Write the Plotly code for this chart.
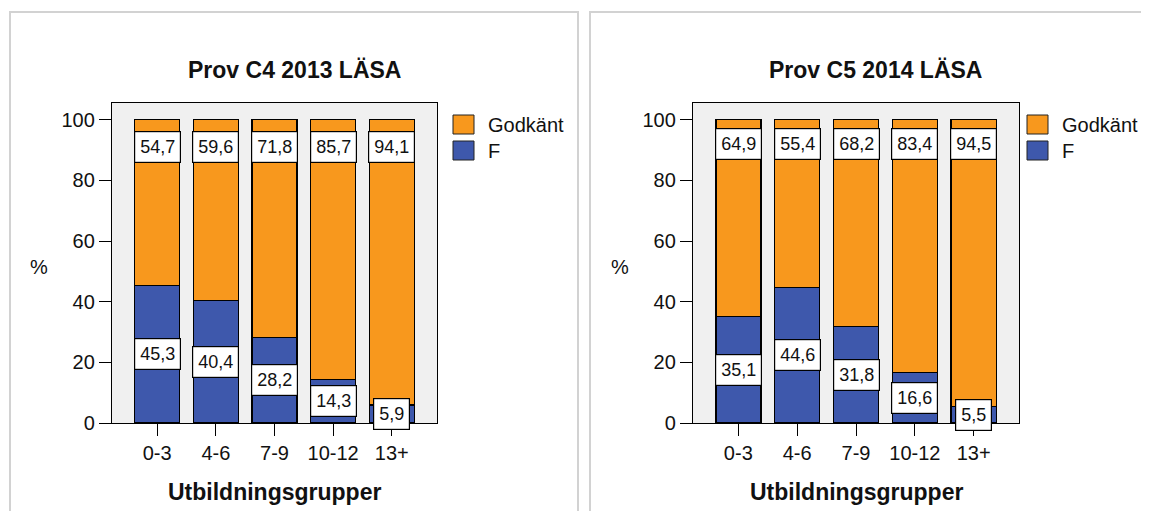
import plotly.graph_objects as go

VIEW_W, VIEW_H = 1149, 519
OX, OY = 8, 8  # default page body margin
W, H = VIEW_W - OX, VIEW_H - 2 * OY  # keep the page from overflowing the window

categories = ["0-3", "4-6", "7-9", "10-12", "13+"]
series_names = ["F", "Godkänt"]

c4_titel = "Prov C4 2013 LÄSA"
c4_f = [45.3, 40.4, 28.2, 14.3, 5.9]
c4_godkant = [54.7, 59.6, 71.8, 85.7, 94.1]

c5_titel = "Prov C5 2014 LÄSA"
c5_f = [35.1, 44.6, 31.8, 16.6, 5.5]
c5_godkant = [64.9, 55.4, 68.2, 83.4, 94.5]

y_ticks = [0, 20, 40, 60, 80, 100]
x_title = "Utbildningsgrupper"
y_title = "%"

ORANGE = "#F8981D"
BLUE = "#3E58AC"
FONT = "Liberation Sans, Arial, sans-serif"


def px(x):
    return (x - OX) / W


def py(y):
    return 1 - (y - OY) / H


def fmt(v):
    return f"{v:.1f}".replace(".", ",")


fig = go.Figure()

panels = [
    dict(title=c4_titel, f=c4_f, g=c4_godkant, ax="", plot=(112, 437),
         panel=(10, 578), legend_x=453, top_label=91),
    dict(title=c5_titel, f=c5_f, g=c5_godkant, ax="2", plot=(693, 1019),
         panel=(590, 1175), legend_x=1027, top_label=92),
]

plot_top, plot_bottom = 103, 423
shapes = []
annotations = []

for p in panels:
    xa = "x" + p["ax"]
    ya = "y" + p["ax"]
    fig.add_trace(go.Bar(x=categories, y=p["f"], name=series_names[0],
                         marker=dict(color=BLUE, line=dict(color="black", width=1.4)),
                         width=0.765, xaxis=xa, yaxis=ya, showlegend=False,
                         hoverinfo="x+y"))
    fig.add_trace(go.Bar(x=categories, y=p["g"], name=series_names[1],
                         marker=dict(color=ORANGE, line=dict(color="black", width=1.4)),
                         width=0.765, xaxis=xa, yaxis=ya, showlegend=False,
                         hoverinfo="x+y"))

    axis_common = dict(showline=True, linecolor="black", linewidth=1.3, mirror=True,
                       ticks="outside", ticklen=12, tickcolor="black", tickwidth=1.3,
                       showgrid=False, zeroline=False, automargin=False,
                       tickfont=dict(family=FONT, size=20, color="#111"))
    x0, x1 = p["plot"]
    fig.layout["xaxis" + p["ax"]] = dict(axis_common, domain=[px(x0), px(x1)],
                                         type="category", range=[-0.77, 4.77],
                                         anchor=ya)
    fig.layout["yaxis" + p["ax"]] = dict(axis_common, domain=[py(plot_bottom), py(plot_top)],
                                         range=[0, 105.5], tickvals=y_ticks,
                                         anchor=xa)

    # data labels
    for i, cat in enumerate(categories):
        annotations.append(dict(x=cat, y=p["f"][i] / 2, xref=xa, yref=ya,
                                text=fmt(p["f"][i]), showarrow=False,
                                bgcolor="white", bordercolor="black", borderwidth=1.2,
                                borderpad=5, font=dict(family=FONT, size=18, color="#111")))
        annotations.append(dict(x=cat, y=p["top_label"], xref=xa, yref=ya,
                                text=fmt(p["g"][i]), showarrow=False,
                                bgcolor="white", bordercolor="black", borderwidth=1.2,
                                borderpad=5, font=dict(family=FONT, size=18, color="#111")))

    # panel frame
    pa, pb = p["panel"]
    shapes.append(dict(type="rect", xref="paper", yref="paper",
                       x0=px(pa), x1=px(pb), y0=py(560), y1=py(12),
                       line=dict(color="#D2D2D2", width=2), layer="below"))

    # title
    annotations.append(dict(x=px((pa + min(pb, 1160)) / 2), y=py(70), xref="paper", yref="paper",
                            text="<b>" + p["title"] + "</b>", showarrow=False,
                            xanchor="center", yanchor="middle",
                            font=dict(family=FONT, size=23, color="#111")))
    # axis titles
    annotations.append(dict(x=px((x0 + x1) / 2), y=py(492), xref="paper", yref="paper",
                            text="<b>" + x_title + "</b>", showarrow=False,
                            xanchor="center", yanchor="middle",
                            font=dict(family=FONT, size=23, color="#111")))
    annotations.append(dict(x=px(x0 - 73), y=py(267), xref="paper", yref="paper",
                            text=y_title, showarrow=False,
                            xanchor="center", yanchor="middle",
                            font=dict(family=FONT, size=20, color="#111")))

    # legend (manual swatches)
    lx = p["legend_x"]
    for j, (nm, col) in enumerate([(series_names[1], ORANGE), (series_names[0], BLUE)]):
        top = 115 + j * 26
        shapes.append(dict(type="rect", xref="paper", yref="paper",
                           x0=px(lx), x1=px(lx + 21), y0=py(top + 19), y1=py(top),
                           fillcolor=col, line=dict(color="#222", width=1)))
        annotations.append(dict(x=px(lx + 33), y=py(top + 10), xref="paper", yref="paper",
                                text=nm, showarrow=False, xanchor="left", yanchor="middle",
                                font=dict(family=FONT, size=20, color="#111")))

fig.update_layout(
    width=W, height=H,
    margin=dict(l=0, r=0, t=0, b=0),
    barmode="stack",
    bargap=0.2,
    paper_bgcolor="white",
    plot_bgcolor="#F0F0F0",
    shapes=shapes,
    annotations=annotations,
    showlegend=False,
    font=dict(family=FONT),
)

fig.write_html("out.html")
